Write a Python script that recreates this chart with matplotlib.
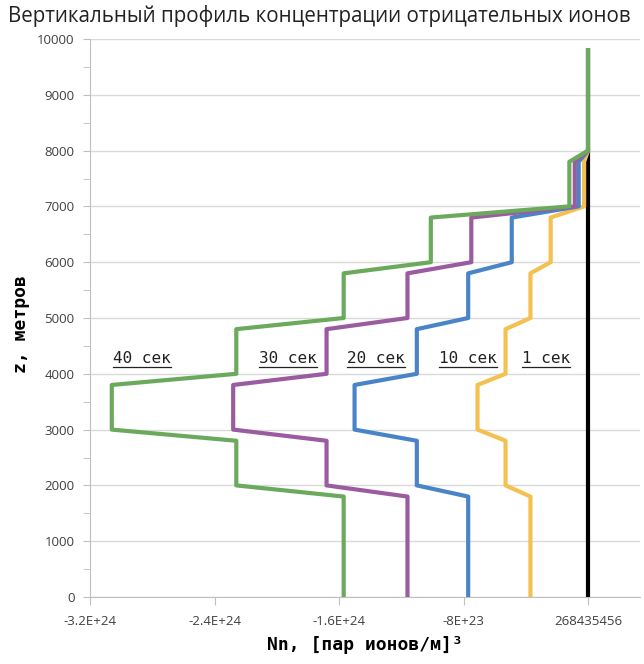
import matplotlib.pyplot as plt
from matplotlib.lines import Line2D
from matplotlib.transforms import IdentityTransform

#%% data
z = [0, 1800, 2000, 2800, 3000, 3800, 4000, 4800, 5000, 5800, 6000, 6800, 7000, 7800, 8000, 9800]

n_40 = [-1.57e24, -1.57e24, -2.26e24, -2.26e24, -3.06e24, -3.06e24, -2.26e24, -2.26e24,
        -1.57e24, -1.57e24, -1.01e24, -1.01e24, -1.2e23, -1.2e23, 0, 0]
n_30 = [-1.16e24, -1.16e24, -1.68e24, -1.68e24, -2.28e24, -2.28e24, -1.68e24, -1.68e24,
        -1.16e24, -1.16e24, -7.5e23, -7.5e23, -8.5e22, -8.5e22, 0, 0]
n_20 = [-7.7e23, -7.7e23, -1.10e24, -1.10e24, -1.50e24, -1.50e24, -1.10e24, -1.10e24,
        -7.7e23, -7.7e23, -4.9e23, -4.9e23, -6e22, -6e22, 0, 0]
n_10 = [-3.7e23, -3.7e23, -5.3e23, -5.3e23, -7.1e23, -7.1e23, -5.3e23, -5.3e23,
        -3.7e23, -3.7e23, -2.4e23, -2.4e23, -2.5e22, -2.5e22, 0, 0]
z_0 = [0, 8000]
n_0 = [0, 0]

labels = ['40 сек', '30 сек', '20 сек', '10 сек', '1 сек']
label_x = [-2.866e24, -1.928e24, -1.362e24, -7.71e23, -2.7e23]
label_z = 4270

xticks = [-3.2e24, -2.4e24, -1.6e24, -8e23, 0]
xticklabels = ['-3.2E+24', '-2.4E+24', '-1.6E+24', '-8E+23', '268435456']

#%% plot
fig = plt.figure(figsize=(6.44, 6.64), dpi=100)
ax = fig.add_axes([90/644, 67/664, 550/644, 558/664])

lw = 3.0
ax.plot(n_0, z_0, color='black', lw=lw, zorder=2)
ax.plot(n_10, z, color='#F4C150', lw=lw, zorder=3)
ax.plot(n_20, z, color='#4A84C8', lw=lw, zorder=4)
ax.plot(n_30, z, color='#9A5BA0', lw=lw, zorder=5)
ax.plot(n_40, z, color='#6BAA5C', lw=lw, zorder=6)

ax.set_xlim(-3.2e24, 3.34e23)
ax.set_ylim(0, 10000)
ax.set_xticks(xticks)
ax.set_xticklabels(xticklabels)
ax.set_yticks(range(0, 10001, 1000))
ax.set_yticks(range(500, 10000, 1000), minor=True)

ax.grid(axis='y', color='#d9d9d9', lw=1)
ax.set_axisbelow(True)
for s in ['top', 'right']:
    ax.spines[s].set_visible(False)
for s in ['left', 'bottom']:
    ax.spines[s].set_color('#bfbfbf')
ax.tick_params(axis='both', which='both', color='#bfbfbf', labelcolor='#404040',
               labelsize=9.5)
ax.tick_params(axis='x', length=6, pad=7)
ax.tick_params(axis='y', which='major', length=5, pad=6)
ax.tick_params(axis='y', which='minor', length=5)
for t in ax.get_xticklabels() + ax.get_yticklabels():
    t.set_family('Open Sans')

ax.set_xlabel('Nn, [пар ионов/м]³', family='DejaVu Sans Mono', fontweight='bold',
              fontsize=13, labelpad=6)
ax.set_ylabel('z, метров', family='DejaVu Sans Mono', fontweight='bold',
              fontsize=13)
ax.yaxis.set_label_coords(-60/550, 0.49)
fig.text(8/644, 1 - 5/664, 'Вертикальный профиль концентрации отрицательных ионов',
         family='Open Sans', fontsize=14.8, ha='left', va='top', color='#222222')

texts = []
for lab, xv in zip(labels, label_x):
    texts.append(ax.text(xv, label_z, lab, family='DejaVu Sans Mono', fontsize=11.5,
                         ha='center', va='center', color='#222222', zorder=7))

# underline the labels
fig.canvas.draw()
r = fig.canvas.get_renderer()
for t in texts:
    bb = t.get_window_extent(r)
    fig.add_artist(Line2D([bb.x0, bb.x1], [bb.y0 - 1, bb.y0 - 1], color='#222222',
                          lw=0.9, transform=IdentityTransform()))

fig.savefig('out.png', dpi=100)
